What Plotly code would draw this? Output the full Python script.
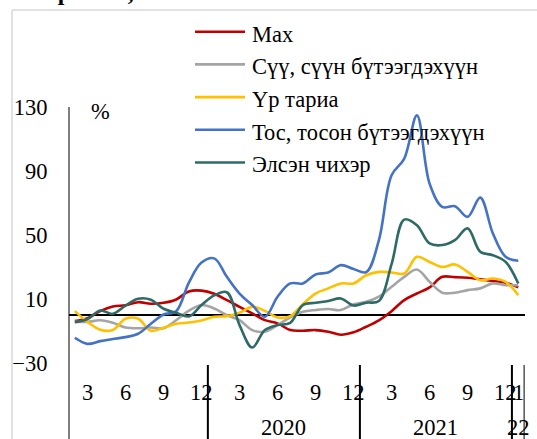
import plotly.graph_objects as go

# ---- data -------------------------------------------------------------
years = [2019] * 11 + [2020] * 12 + [2021] * 12 + [2022] * 1
month_nums = list(range(2, 13)) + list(range(1, 13)) + list(range(1, 13)) + [1]
categories = [f"{y}-{m:02d}" for y, m in zip(years, month_nums)]

series_names = ["Мах", "Сүү, сүүн бүтээгдэхүүн", "Үр тариа",
                "Тос, тосон бүтээгдэхүүн", "Элсэн чихэр"]

meat = [-3.5, -1.7, 2.7, 5.6, 6.4, 8.3, 7.3, 7.9, 10.0, 15.0, 15.5,
        13.5, 9.6, 5.4, 1.3, -2.9, -4.9, -9.1, -9.5, -9.1, -10.1, -12.0,
        -10.5, -7.0, -3.0, 2.7, 9.6, 13.7, 17.5, 24.1, 23.9, 23.5, 22.5, 21.5, 20.4, 17.5]
milk = [-4.0, -4.0, -3.0, -4.5, -7.5, -8.0, -7.5, -8.0, -3.0, 3.0, 6.5,
        4.4, 0.2, -2.9, -9.1, -10.1, -6.0, -1.2, 2.3, 3.4, 4.0, 3.4,
        7.0, 8.5, 11.7, 17.9, 24.1, 28.7, 21.0, 14.2, 14.2, 15.8, 16.9, 20.0, 18.9, 18.9]
grain = [2.7, -4.0, -8.9, -9.0, -2.0, -2.0, -9.5, -7.7, -5.2, -4.4, -3.1,
         -0.8, -0.4, 1.7, 5.4, 2.9, -1.2, -0.4, 7.1, 13.7, 16.9, 20.0,
         20.0, 25.1, 27.2, 26.8, 26.2, 36.6, 33.4, 30.3, 31.8, 27.2, 22.0, 23.1, 21.0, 12.7]
oil = [-13.9, -17.7, -16.0, -14.7, -13.5, -11.4, -5.2, 0.6, 2.7, 20.5, 33.0,
       35.6, 24.1, 13.7, 6.5, -0.8, 11.7, 20.0, 20.0, 25.6, 26.8, 31.4,
       29.0, 27.0, 47.0, 87.4, 97.8, 124.8, 82.2, 67.7, 68.1, 61.5, 73.5, 51.1, 36.6, 34.1]
sugar = [-4.2, -2.3, 3.1, 1.0, 6.2, 10.4, 9.8, 4.2, 1.7, -0.6, 6.5,
         12.5, 14.5, -6.0, -20.0, -9.1, -6.0, -4.6, 6.5, 7.9, 9.0, 10.6,
         6.2, 8.0, 9.0, 32.0, 59.8, 56.3, 44.9, 43.9, 47.0, 54.3, 39.7, 37.6, 33.4, 19.9]

series_values = [meat, milk, grain, oil, sugar]
colors = ["#C00000", "#A5A5A5", "#FFC000", "#4472C4", "#2E6B66"]

y_ticks = [-30, 10, 50, 90, 130]
shown_months = [3, 6, 9, 12]
year_labels = {2020: "2020", 2021: "2021", 2022: "22"}
title_text = "Барааны, хэмжээ"

# ---- layout helpers ---------------------------------------------------
W, H = 537, 439
FONT = "Liberation Serif"
FS = 22.5


def px(x):
    return x / W


def py(y):
    return 1 - y / H


fig = go.Figure()
for name, vals, col in zip(series_names, series_values, colors):
    fig.add_trace(go.Scatter(
        x=categories, y=vals, name=name, mode="lines",
        line=dict(color=col, width=2.6, shape="spline", smoothing=1.0),
        showlegend=False, hoverinfo="skip"))

shapes = []
annotations = []

# chart border (light gray, top + left)
shapes.append(dict(type="line", xref="paper", yref="paper",
                   x0=px(12), x1=1.01, y0=py(10), y1=py(10),
                   line=dict(color="#D9D9D9", width=1.5)))
shapes.append(dict(type="line", xref="paper", yref="paper",
                   x0=px(12), x1=px(12), y0=py(10), y1=-0.01,
                   line=dict(color="#D9D9D9", width=1.5)))

# vertical axis line running down through the category area
shapes.append(dict(type="line", xref="x", yref="paper",
                   x0=-0.5, x1=-0.5, y0=0, y1=py(107),
                   line=dict(color="black", width=2)))

# group dividers where the year changes, plus the end
n = len(categories)
bounds = [i - 0.5 for i in range(1, n) if years[i] != years[i - 1]] + [n - 0.5]
for b in bounds:
    shapes.append(dict(type="line", xref="x", yref="paper",
                       x0=b, x1=b, y0=0, y1=py(365),
                       line=dict(color="black", width=2)))

# month labels
for i, (y, m) in enumerate(zip(years, month_nums)):
    if m in shown_months or (y == 2022):
        annotations.append(dict(x=categories[i], xref="x", y=py(392), yref="paper",
                                text=str(m), showarrow=False, xanchor="center",
                                yanchor="middle", font=dict(family=FONT, size=FS, color="black")))

# year labels
for yr, lab in year_labels.items():
    idx = [i for i, y in enumerate(years) if y == yr]
    annotations.append(dict(x=sum(idx) / len(idx), xref="x", y=py(427), yref="paper",
                            text=lab, showarrow=False, xanchor="center", yanchor="middle",
                            font=dict(family=FONT, size=FS, color="black")))

# percent sign
annotations.append(dict(x=px(100), xref="paper", y=py(112), yref="paper", text="%",
                        showarrow=False, xanchor="center", yanchor="middle",
                        font=dict(family=FONT, size=FS, color="black")))

# cut-off title at the very top
annotations.append(dict(x=px(28), xref="paper", y=py(-8), yref="paper", text="<b>" + title_text + "</b>",
                        showarrow=False, xanchor="left", yanchor="middle",
                        font=dict(family=FONT, size=24, color="black")))

# manual legend
for k, (name, col) in enumerate(zip(series_names, colors)):
    ly = 31.7 + 32.7 * k
    shapes.append(dict(type="line", xref="paper", yref="paper",
                       x0=px(195), x1=px(245), y0=py(ly), y1=py(ly),
                       line=dict(color=col, width=2.6)))
    annotations.append(dict(x=px(250), xref="paper", y=py(ly + 2.5), yref="paper", text=name,
                            showarrow=False, xanchor="left", yanchor="middle",
                            font=dict(family=FONT, size=FS, color="black")))

fig.update_layout(
    width=W, height=H,
    margin=dict(l=0, r=0, t=0, b=0, autoexpand=False),
    paper_bgcolor="white", plot_bgcolor="white",
    showlegend=False,
    font=dict(family=FONT, size=FS, color="black"),
    xaxis=dict(type="category", domain=[px(68.5), px(524.6)], range=[-0.5, n - 0.5],
               showticklabels=False, showgrid=False, zeroline=False, showline=False, ticks=""),
    yaxis=dict(domain=[py(363.6), py(107)], range=[-30, 130], tickvals=y_ticks,
               showgrid=False, zeroline=True, zerolinecolor="black", zerolinewidth=2,
               showline=False, ticks="", ticklen=0, ticklabelstandoff=20,
               tickfont=dict(family=FONT, size=FS, color="black")),
    shapes=shapes,
    annotations=annotations,
)

fig.write_html("out.html", config={"displayModeBar": False, "staticPlot": True},
               post_script="document.body.style.margin='0';document.body.style.overflow='hidden';")
